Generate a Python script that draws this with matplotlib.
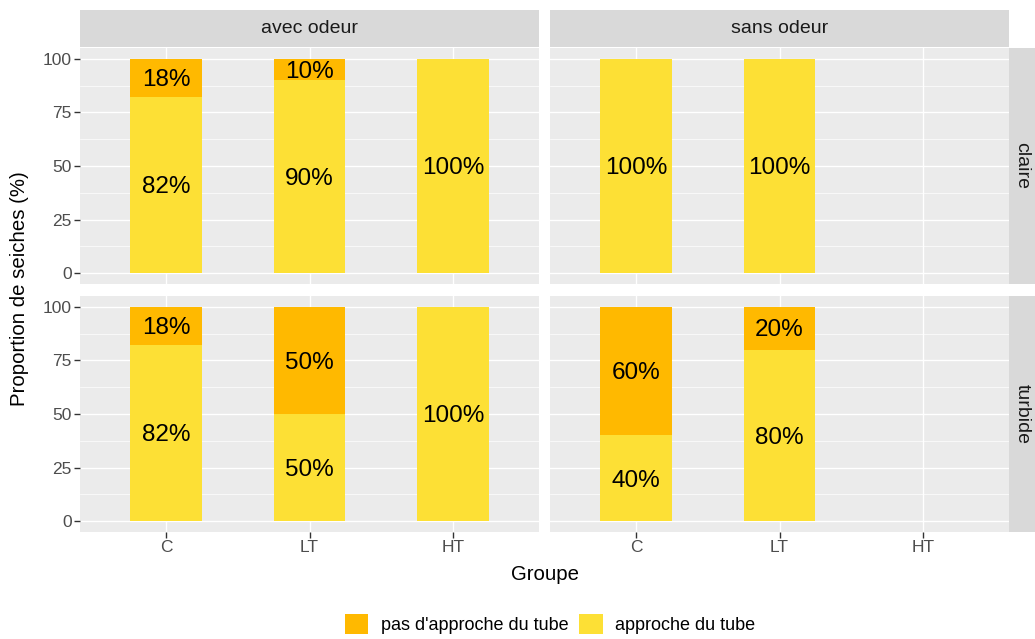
import matplotlib.pyplot as plt
from matplotlib.patches import Patch
from matplotlib.ticker import MultipleLocator

plt.rcParams['font.family'] = ['Liberation Sans', 'DejaVu Sans']

# DATA

groupes = ["C", "LT", "HT"]
odeurs = ["avec odeur", "sans odeur"]
eaux = ["claire", "turbide"]

# approche du tube (%) per (eau, odeur), None = no data
approche = {
    ("claire", "avec odeur"): [82, 90, 100],
    ("claire", "sans odeur"): [100, 100, None],
    ("turbide", "avec odeur"): [82, 50, 100],
    ("turbide", "sans odeur"): [40, 80, None],
}
pas_approche = {
    ("claire", "avec odeur"): [18, 10, 0],
    ("claire", "sans odeur"): [0, 0, None],
    ("turbide", "avec odeur"): [18, 50, 0],
    ("turbide", "sans odeur"): [60, 20, None],
}

c_app = "#FDE035"
c_pas = "#FFB900"

W, H = 1035, 639
fig = plt.figure(figsize=(W / 100, H / 100), dpi=100)

cols_px = [(80, 539), (550, 1009)]
rows_px = [(48, 284), (296, 532)]

def frac(x0, y0, x1, y1):
    return [x0 / W, 1 - y1 / H, (x1 - x0) / W, (y1 - y0) / H]

for i, eau in enumerate(eaux):
    for j, od in enumerate(odeurs):
        x0, x1 = cols_px[j]
        y0, y1 = rows_px[i]
        ax = fig.add_axes(frac(x0, y0, x1, y1))
        ax.set_facecolor("#EBEBEB")
        for s in ax.spines.values():
            s.set_visible(False)
        ax.set_xlim(0.4, 3.6)
        ax.set_ylim(-5, 105)
        ax.yaxis.set_major_locator(MultipleLocator(25))
        ax.yaxis.set_minor_locator(MultipleLocator(12.5))
        ax.set_xticks([1, 2, 3])
        ax.grid(True, which="major", color="white", lw=1.0)
        ax.grid(True, which="minor", axis="y", color="white", lw=0.5)
        ax.set_axisbelow(True)
        ax.tick_params(which="minor", length=0)
        ax.tick_params(which="major", color="#333333", length=4, width=1,
                       labelsize=12.5, labelcolor="#4D4D4D", pad=2)

        app = approche[(eau, od)]
        pas = pas_approche[(eau, od)]
        for k in range(len(groupes)):
            if app[k] is None:
                continue
            xk = k + 1
            ax.bar(xk, app[k], width=0.5, color=c_app, zorder=2)
            ax.bar(xk, pas[k], width=0.5, bottom=app[k], color=c_pas, zorder=2)
            ax.text(xk, app[k] / 2 - 1, f"{app[k]}%", ha="center", va="center",
                    fontsize=17.5, zorder=3)
            if pas[k] > 0:
                ax.text(xk, app[k] + pas[k] / 2 - 1, f"{pas[k]}%", ha="center",
                        va="center", fontsize=17.5, zorder=3)

        if j == 0:
            ax.set_yticks([0, 25, 50, 75, 100])
        else:
            ax.tick_params(axis="y", left=False, labelleft=False)
        if i == 1:
            ax.set_xticklabels(groupes)
        else:
            ax.tick_params(axis="x", bottom=False, labelbottom=False)

        # strips
        if i == 0:
            sax = fig.add_axes(frac(x0, 10, x1, 47))
            sax.set_facecolor("#D9D9D9")
            sax.set_xticks([]); sax.set_yticks([])
            for s in sax.spines.values():
                s.set_visible(False)
            sax.text(0.5, 0.5, od, ha="center", va="center", fontsize=14,
                     color="#1A1A1A", transform=sax.transAxes)
        if j == 1:
            rax = fig.add_axes(frac(1009, y0, 1035, y1))
            rax.set_facecolor("#D9D9D9")
            rax.set_xticks([]); rax.set_yticks([])
            for s in rax.spines.values():
                s.set_visible(False)
            rax.text(0.5, 0.5, eau, ha="center", va="center", fontsize=14,
                     color="#1A1A1A", rotation=-90, transform=rax.transAxes)

fig.text(545 / W, 1 - 575 / H, "Groupe", ha="center", va="center", fontsize=14.7)
fig.text(20 / W, 1 - 289 / H, "Proportion de seiches (%)", ha="center",
         va="center", rotation=90, fontsize=14.7)

handles = [Patch(facecolor=c_pas, edgecolor="none", label="pas d'approche du tube"),
           Patch(facecolor=c_app, edgecolor="none", label="approche du tube")]
fig.legend(handles=handles, loc="center", bbox_to_anchor=(550 / W, 1 - 624 / H),
           ncol=2, frameon=False, fontsize=13, handlelength=1.3, handleheight=1.3,
           columnspacing=0.6, handletextpad=0.7)

fig.savefig("out.png", dpi=100)
